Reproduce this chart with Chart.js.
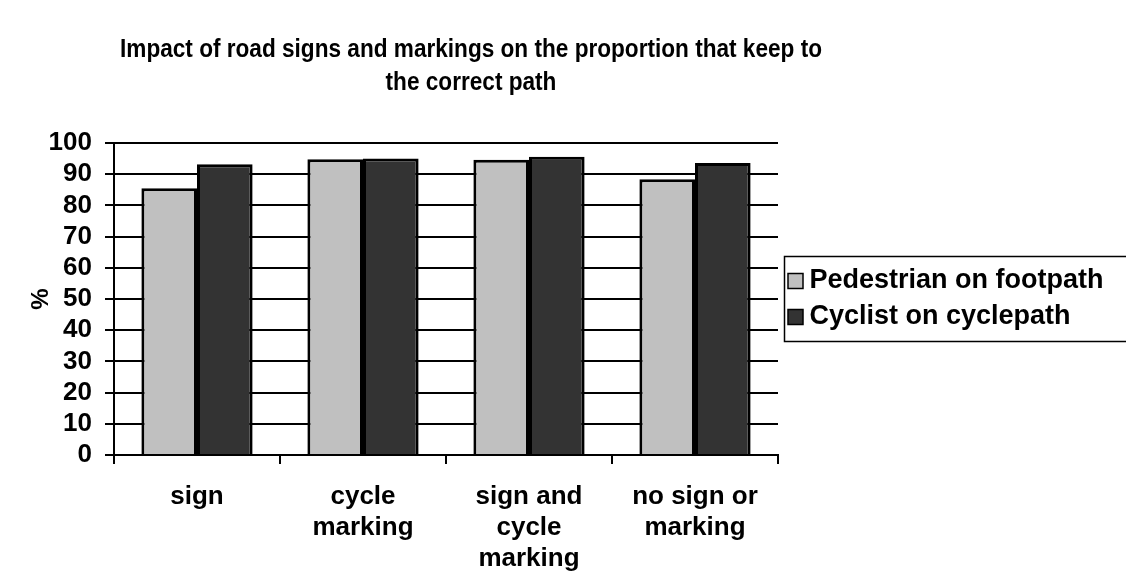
<!DOCTYPE html>
<html>
<head>
<meta charset="utf-8">
<script src="https://cdn.jsdelivr.net/npm/chart.js@4/dist/chart.umd.min.js"></script>
<style>
  html, body { margin: 0; padding: 0; background: #ffffff; }
  #wrap { width: 1126px; height: 576px; position: relative; }
</style>
</head>
<body>
<div id="wrap"><canvas id="c" width="1126" height="576"></canvas></div>
<script>
// ---- data ----
const titleLines = ["Impact of road signs and markings on the proportion that keep to", "the correct path"];
const categories = ["sign", ["cycle", "marking"], ["sign and", "cycle", "marking"], ["no sign or", "marking"]];
const seriesNames = ["Pedestrian on footpath", "Cyclist on cyclepath"];
const pedestrianValues = [85.5, 94.8, 94.6, 88.4];
const cyclistValues = [93.2, 95.0, 95.6, 93.6];
const yMin = 0, yMax = 100, yStep = 10;
const yTitle = "%";

// ---- layout constants ----
const W = 1126, H = 576;
const PLOT_LEFT = 114, PLOT_RIGHT = 778, PLOT_TOP = 143, PLOT_BOTTOM = 455;
const TITLE_CX = 471, TITLE_Y = [50, 83], TITLE_W = 702, TITLE_SIZE = 25;
const LEGEND_LEFT = 786;
const FONT = '"Liberation Sans", Arial, sans-serif';

// title is drawn slightly condensed to match the reference lettering
const TITLE_FONT = 'bold ' + TITLE_SIZE + 'px ' + FONT;
function titleScale() {
  const ctx = document.createElement('canvas').getContext('2d');
  ctx.font = TITLE_FONT;
  return TITLE_W / ctx.measureText(titleLines[0]).width;
}
const TITLE_SX = titleScale();

const titlePlugin = {
  id: 'customTitle',
  afterDraw(chart) {
    const ctx = chart.ctx;
    ctx.save();
    ctx.fillStyle = '#000';
    ctx.font = TITLE_FONT;
    ctx.textAlign = 'center';
    ctx.textBaseline = 'middle';
    ctx.translate(TITLE_CX, 0);
    ctx.scale(TITLE_SX, 1);
    titleLines.forEach((t, i) => ctx.fillText(t, 0, TITLE_Y[i]));
    ctx.restore();
  }
};

const LEGEND_W = W - PLOT_RIGHT;
const legendPlugin = {
  id: 'legendTweaks',
  beforeLayout(chart) {
    const lg = chart.legend;
    if (lg && !lg._wrappedFit) {
      const f = lg.fit;
      lg.fit = function () { f.call(this); this.width = LEGEND_W; };
      lg._wrappedFit = true;
    }
  },
  afterLayout(chart) {
    const lg = chart.legend;
    if (lg) { lg.left = LEGEND_LEFT; lg.right = LEGEND_LEFT + lg.width; }
  },
  afterDraw(chart) {
    const lg = chart.legend;
    if (!lg || !lg.legendHitBoxes || !lg.legendHitBoxes.length) return;
    const boxes = lg.legendHitBoxes;
    const top = boxes[0].top - 11;
    const last = boxes[boxes.length - 1];
    const bottom = last.top + last.height + 11;
    const ctx = chart.ctx;
    ctx.save();
    ctx.strokeStyle = '#000';
    ctx.lineWidth = 1.5;
    ctx.strokeRect(784.5, top, 400, bottom - top);
    ctx.restore();
  }
};

new Chart(document.getElementById('c'), {
  type: 'bar',
  data: {
    labels: categories,
    datasets: [
      { label: seriesNames[0], data: pedestrianValues, backgroundColor: '#C0C0C0', borderColor: '#000000', borderWidth: 3, borderSkipped: 'bottom' },
      { label: seriesNames[1], data: cyclistValues, backgroundColor: '#333333', borderColor: '#000000', borderWidth: 3, borderSkipped: 'bottom' }
    ]
  },
  options: {
    responsive: false,
    devicePixelRatio: 1,
    animation: false,
    layout: { padding: { top: PLOT_TOP, left: 0, right: 0, bottom: 0 } },
    datasets: { bar: { categoryPercentage: 0.67, barPercentage: 1.0 } },
    scales: {
      x: {
        offset: true,
        grid: { offset: true, drawOnChartArea: false, drawTicks: true, tickLength: 9, color: '#000', lineWidth: 2 },
        border: { display: true, color: '#000', width: 2 },
        ticks: { color: '#000', font: { family: FONT, size: 26, weight: 'bold' }, padding: 17, maxRotation: 0, autoSkip: false },
        afterFit(s) { s.height = H - PLOT_BOTTOM; }
      },
      y: {
        min: yMin, max: yMax,
        grid: { color: '#000', lineWidth: 2, drawTicks: true, tickLength: 9 },
        border: { display: true, color: '#000', width: 2 },
        ticks: { stepSize: yStep, autoSkip: false, color: '#000', font: { family: FONT, size: 26, weight: 'bold' }, padding: 13 },
        title: { display: true, text: yTitle, color: '#000', font: { family: FONT, size: 24, weight: 'bold' }, padding: { top: 27, bottom: 0 } },
        afterFit(s) { s.width = PLOT_LEFT; }
      }
    },
    plugins: {
      title: { display: false },
      tooltip: { enabled: false },
      legend: {
        display: true,
        position: 'right',
        fullSize: false,
        align: 'center',
        labels: {
          color: '#000',
          font: { family: FONT, size: 27, weight: 'bold' },
          usePointStyle: true,
          pointStyle: 'rect',
          boxWidth: 1, boxHeight: 15, padding: 9,
          generateLabels(chart) {
            return Chart.defaults.plugins.legend.labels.generateLabels(chart).map(l => Object.assign(l, { lineWidth: 1.5, strokeStyle: '#000', pointStyle: 'rect', rotation: 0 }));
          }
        }
      }
    }
  },
  plugins: [titlePlugin, legendPlugin]
});
</script>
</body>
</html>
